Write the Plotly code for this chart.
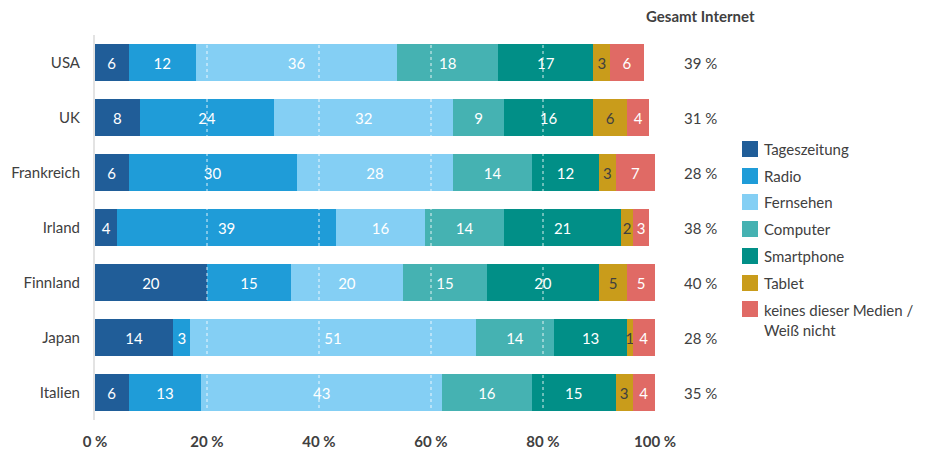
import plotly.graph_objects as go

# Mediennutzung nach Land (Anteile in %)
countries = ["USA", "UK", "Frankreich", "Irland", "Finnland", "Japan", "Italien"]
series_names = ["Tageszeitung", "Radio", "Fernsehen", "Computer", "Smartphone",
                "Tablet", "keines dieser Medien / Weiß nicht"]
tageszeitung = [6, 8, 6, 4, 20, 14, 6]
radio = [12, 24, 30, 39, 15, 3, 13]
fernsehen = [36, 32, 28, 16, 20, 51, 43]
computer = [18, 9, 14, 14, 15, 14, 16]
smartphone = [17, 16, 12, 21, 20, 13, 15]
tablet = [3, 6, 3, 2, 5, 1, 3]
keines = [6, 4, 7, 3, 5, 4, 4]
gesamt_internet = [39, 31, 28, 38, 40, 28, 35]

tick_vals = [0, 20, 40, 60, 80, 100]
tick_text = ["0 %", "20 %", "40 %", "60 %", "80 %", "100 %"]

series_values = [tageszeitung, radio, fernsehen, computer, smartphone, tablet, keines]
colors = ["#205d98", "#1f9cd8", "#84cff4", "#45b2b2", "#018f87", "#c99c1b", "#e06a65"]
label_colors = ["white", "white", "white", "white", "white", "#404040", "white"]

FONT = "Lato"
TEXT = "#404040"
W, H = 929, 452
ML, MR, MT, MB = 95, 274, 35, 32
PW = W - ML - MR
PH = H - MT - MB


def fx(px):
    return (px - ML) / PW


def fy(py):
    return (H - MB - py) / PH


fig = go.Figure()
for name, vals, col, lcol in zip(series_names, series_values, colors, label_colors):
    fig.add_trace(go.Bar(
        y=countries, x=vals, name=name, orientation="h",
        marker=dict(color=col, line=dict(width=0)),
        text=[str(v) for v in vals], textposition="inside",
        insidetextanchor="middle", textangle=0,
        insidetextfont=dict(family=FONT, size=15, color=lcol),
        hoverinfo="x+y+name", showlegend=False,
    ))

shapes = []
# dotted white gridlines over the bars
for v in tick_vals[1:-1]:
    shapes.append(dict(type="line", xref="x", yref="paper", x0=v, x1=v, y0=0, y1=1,
                       line=dict(color="rgba(255,255,255,0.85)", width=1, dash="dot"),
                       layer="above"))

annotations = []
# Gesamt Internet column
annotations.append(dict(xref="paper", yref="paper", x=fx(700), y=fy(16),
                        text="<b>Gesamt Internet</b>", showarrow=False,
                        xanchor="center", yanchor="middle",
                        font=dict(family=FONT, size=15, color=TEXT)))
for c, g in zip(countries, gesamt_internet):
    annotations.append(dict(xref="paper", yref="y", x=fx(700), y=c,
                            text=f"{g} %", showarrow=False,
                            xanchor="center", yanchor="middle",
                            font=dict(family=FONT, size=15, color=TEXT)))

# legend
legend_y = [149, 176, 202, 229, 256, 283, 309]
for name, col, cy in zip(series_names, colors, legend_y):
    shapes.append(dict(type="rect", xref="paper", yref="paper",
                       x0=fx(742), x1=fx(758), y0=fy(cy + 8), y1=fy(cy - 8),
                       fillcolor=col, line=dict(width=0)))
    label = name.replace(" / ", " /<br>")
    if "<br>" in label:
        annotations.append(dict(xref="paper", yref="paper", x=fx(762), y=fy(cy - 10),
                                text=label, showarrow=False, align="left",
                                xanchor="left", yanchor="top",
                                font=dict(family=FONT, size=15, color=TEXT)))
    else:
        annotations.append(dict(xref="paper", yref="paper", x=fx(762), y=fy(cy),
                                text=label, showarrow=False,
                                xanchor="left", yanchor="middle",
                                font=dict(family=FONT, size=15, color=TEXT)))

fig.update_layout(
    width=W, height=H,
    margin=dict(l=ML, r=MR, t=MT, b=MB, pad=0, autoexpand=False),
    barmode="stack", bargap=0.31,
    plot_bgcolor="white", paper_bgcolor="white",
    font=dict(family=FONT, size=15, color=TEXT),
    uniformtext=dict(minsize=15, mode="show"),
    xaxis=dict(range=[0, 100], tickvals=tick_vals, ticktext=tick_text,
               showgrid=False, zeroline=False, showline=False, automargin=False,
               tickfont=dict(family=FONT, size=15, color=TEXT, weight="bold"),
               ticks="", ticklabelstandoff=11, fixedrange=True),
    yaxis=dict(categoryorder="array", categoryarray=countries, autorange="reversed",
               showgrid=False, zeroline=False, showline=True, automargin=False,
               linecolor="#e3e3e3", linewidth=2,
               tickfont=dict(family=FONT, size=15, color=TEXT),
               ticks="", ticklabelstandoff=10, fixedrange=True),
    shapes=shapes, annotations=annotations, showlegend=False,
)

fig.write_html("out.html")
